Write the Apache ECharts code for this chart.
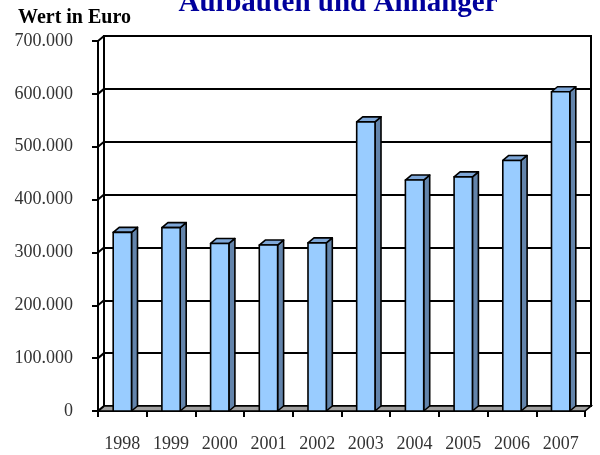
<!DOCTYPE html>
<html>
<head>
<meta charset="utf-8">
<script src="https://cdn.jsdelivr.net/npm/echarts@6/dist/echarts.min.js"></script>
<style>html,body{margin:0;padding:0;background:#fff;}#c{width:600px;height:455px;}</style>
</head>
<body>
<div id="c"></div>
<script>
const years = ['1998','1999','2000','2001','2002','2003','2004','2005','2006','2007'];
const values = [338000, 347000, 317000, 314000, 318000, 547000, 437000, 443000, 474000, 604000];
const yTicks = [0, 100000, 200000, 300000, 400000, 500000, 600000, 700000];
const titleText = 'Aufbauten und Anhänger';
const yAxisTitle = 'Wert in Euro';

const DX = 6, DY = 5;
const SERIF = '"Liberation Serif", "DejaVu Serif", serif';
const fmt = v => v === 0 ? '0' : (v / 1000).toFixed(0) + '.000';

function renderBar(params, api) {
  const c = api.coord([api.value(0), api.value(1)]);
  const base = api.coord([api.value(0), 0]);
  const bw = api.size([1, 0])[0];
  const w = bw * 0.376;
  const x0 = c[0] - w / 2, x1 = c[0] + w / 2;
  const yt = c[1], yb = base[1];
  const st = {stroke: '#000', lineWidth: 1.6, lineJoin: 'round'};
  return {type: 'group', children: [
    {type: 'polygon', shape: {points: [[x1, yb], [x1 + DX, yb - DY], [x1 + DX, yt - DY], [x1, yt]]}, style: Object.assign({fill: '#6384AB'}, st)},
    {type: 'polygon', shape: {points: [[x0, yt], [x1, yt], [x1 + DX, yt - DY], [x0 + DX, yt - DY]]}, style: Object.assign({fill: '#7EA7D8'}, st)},
    {type: 'rect', shape: {x: x0, y: yt, width: w, height: yb - yt}, style: Object.assign({fill: '#99CCFF'}, st)}
  ]};
}

function renderFloor(params, api) {
  const bw = api.size([1, 0])[0];
  const l = api.coord([0, 0]);
  const r = api.coord([years.length - 1, 0]);
  const xl = l[0] - bw / 2, xr = r[0] + bw / 2, y = l[1];
  const children = [
    {type: 'polygon', shape: {points: [[xl, y], [xr, y], [xr + DX, y - DY], [xl + DX, y - DY]]},
     style: {fill: '#A0A0A0', stroke: '#000', lineWidth: 1.6}}
  ];
  yTicks.forEach(v => {
    const p = api.coord([0, v]);
    children.push({type: 'line', shape: {x1: xl, y1: p[1], x2: xl + DX, y2: p[1] - DY}, style: {stroke: '#000', lineWidth: 2}});
  });
  return {type: 'group', children};
}

const chart = echarts.init(document.getElementById('c'), null, {renderer: 'canvas'});
chart.setOption({
  animation: false,
  backgroundColor: '#fff',
  title: {
    text: titleText, left: 333, textAlign: 'center', top: -16,
    textStyle: {fontFamily: SERIF, fontWeight: 'bold', fontSize: 29, color: '#00009C'}
  },
  graphic: [{
    type: 'text', left: 18, top: 8,
    style: {text: yAxisTitle, fontFamily: SERIF, fontWeight: 'bold', fontSize: 20, fill: '#000'}
  }],
  grid: [
    {left: 98, right: 15, top: 41, bottom: 44},
    {left: 104, right: 9, top: 36, bottom: 49, show: true, borderColor: '#000', borderWidth: 2, backgroundColor: 'transparent'}
  ],
  xAxis: [
    {type: 'category', gridIndex: 0, data: years, boundaryGap: true,
     axisLine: {show: true, lineStyle: {color: '#000', width: 2}},
     axisTick: {show: true, length: 6, lineStyle: {color: '#000', width: 2}},
     axisLabel: {margin: 24, fontFamily: SERIF, fontSize: 18, color: '#333'}},
    {type: 'category', gridIndex: 1, data: years, show: false}
  ],
  yAxis: [
    {type: 'value', gridIndex: 0, min: 0, max: 700000, interval: 100000,
     axisLine: {show: true, lineStyle: {color: '#000', width: 2}},
     axisTick: {show: true, length: 6, lineStyle: {color: '#000', width: 2}},
     splitLine: {show: false},
     axisLabel: {margin: 25, fontFamily: SERIF, fontSize: 18, color: '#333', formatter: fmt}},
    {type: 'value', gridIndex: 1, min: 0, max: 700000, interval: 100000,
     axisLine: {show: false}, axisTick: {show: false}, axisLabel: {show: false},
     splitLine: {show: true, lineStyle: {color: '#000', width: 2}}}
  ],
  series: [
    {type: 'custom', xAxisIndex: 0, yAxisIndex: 0, z: 1, data: [[0]], renderItem: renderFloor, silent: true},
    {type: 'custom', xAxisIndex: 0, yAxisIndex: 0, z: 3, encode: {x: 0, y: 1},
     data: values.map((v, i) => [i, v]), renderItem: renderBar}
  ]
});
</script>
</body>
</html>
